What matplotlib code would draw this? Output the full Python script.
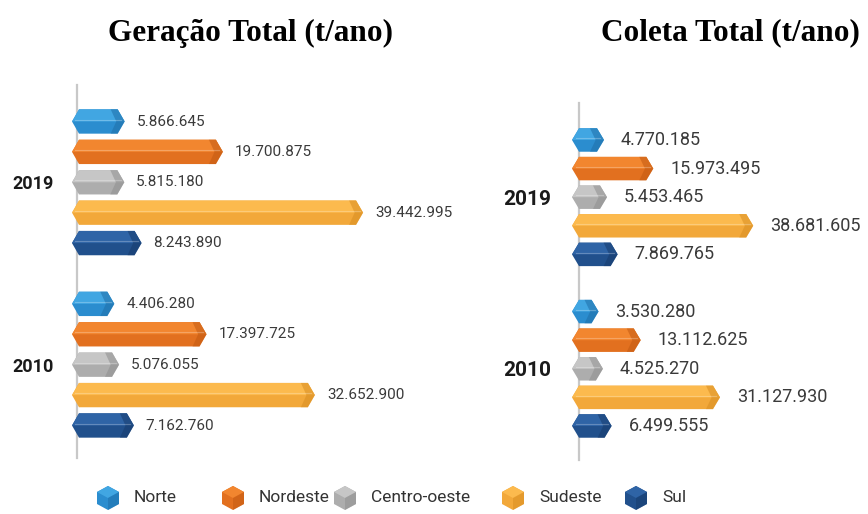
import matplotlib
matplotlib.use("Agg")
import matplotlib.pyplot as plt
from matplotlib.patches import Polygon

# data (t/ano)
regioes = ["Norte", "Nordeste", "Centro-oeste", "Sudeste", "Sul"]
anos = ["2019", "2010"]
geracao_2019 = [5866645, 19700875, 5815180, 39442995, 8243890]
geracao_2010 = [4406280, 17397725, 5076055, 32652900, 7162760]
coleta_2019 = [4770185, 15973495, 5453465, 38681605, 7869765]
coleta_2010 = [3530280, 13112625, 4525270, 31127930, 6499555]

# (top face, front face, tip)
cores = {
    "Norte": ("#41a6e2", "#2b8dcf", "#1f6ea8"),
    "Nordeste": ("#f2862f", "#e2701f", "#c25a12"),
    "Centro-oeste": ("#c6c6c6", "#adadad", "#8e8e8e"),
    "Sudeste": ("#fcba4e", "#f2a83a", "#d88e22"),
    "Sul": ("#2f64a6", "#21508c", "#173b6c"),
}

W, H = 868, 514
fig = plt.figure(figsize=(W / 100, H / 100), dpi=100)


def px_axes(x0, y0, x1, y1):
    # axes placed by pixel box (top-left origin)
    return fig.add_axes([x0 / W, 1 - y1 / H, (x1 - x0) / W, (y1 - y0) / H])


def fmt(v):
    return f"{v:,}".replace(",", ".")


def draw_bar(ax, slot, value, base, tip, h, regiao):
    top, front, dark = cores[regiao]
    v = value / 1e6
    y0, y1 = slot - h / 2, slot + h / 2
    hexa = [(base, slot), (base + tip, y0), (v - tip, y0), (v, slot),
            (v - tip, y1), (base + tip, y1)]
    ax.add_patch(Polygon(hexa, closed=True, fc=front, ec="none"))
    upper = [(base, slot), (base + tip, y0), (v - tip, y0), (v, slot)]
    ax.add_patch(Polygon(upper, closed=True, fc=top, ec="none"))
    ax.plot([base + tip * 0.5, v - tip * 0.5], [slot - h * 0.08] * 2,
            color="white", alpha=0.25, lw=0.8)
    face = [(v - 2 * tip, y0), (v - tip, y0), (v, slot), (v - tip, y1),
            (v - 2 * tip, y1), (v - tip * 1.2, slot)]
    ax.add_patch(Polygon(face, closed=True, fc=dark, ec="none", alpha=0.55))


def painel(ax, serie_2019, serie_2010, base, tip, h, line_x, line_y,
           gap, fs, year_fs, year_pad):
    for i, reg in enumerate(regioes):
        for slot, valor in ((i, serie_2019[i]), (i + 6, serie_2010[i])):
            draw_bar(ax, slot, valor, base, tip, h, reg)
            ax.text(valor / 1e6 + gap, slot, fmt(valor), va="center",
                    ha="left", fontsize=fs, family="Roboto", color="#3a3a3a",
                    clip_on=False)
    ax.plot([line_x, line_x], line_y, color="#c8c8c8", lw=1.6, zorder=0)
    ax.set_yticks([2, 8])
    ax.set_yticklabels(anos, fontsize=year_fs, fontweight="bold",
                       family="Roboto", color="#1a1a1a")
    ax.tick_params(axis="y", length=0, pad=year_pad)
    ax.set_xticks([])
    for s in ax.spines.values():
        s.set_visible(False)
    ax.patch.set_alpha(0)


# Geração Total: px = 83 + 7.1 * v (milhões)
ax1 = px_axes(72, 80, 480, 470)
ax1.set_xlim(-1.55, (480 - 83) / 7.1)
ax1.set_ylim((470 - 121.5) / 30.4, (80 - 121.5) / 30.4)
painel(ax1, geracao_2019, geracao_2010, -1.55, 7 / 7.1, 0.8, -0.85,
       [(85 - 121.5) / 30.4, (458 - 121.5) / 30.4], 12 / 7.1, 11, 13, 13)

# Coleta Total: px = 583 + 4.4 * v (milhões)
ax2 = px_axes(572, 90, 868, 470)
ax2.set_xlim(-2.5, (868 - 583) / 4.4)
ax2.set_ylim((470 - 140) / 28.6, (90 - 140) / 28.6)
painel(ax2, coleta_2019, coleta_2010, -2.5, 7 / 4.4, 0.82, -0.9,
       [(103 - 140) / 28.6, (460 - 140) / 28.6], 17 / 4.4, 13, 15, 15)

# titles and legend on a pixel overlay
ov = px_axes(0, 0, W, H)
ov.set_xlim(0, W)
ov.set_ylim(H, 0)
ov.axis("off")
ov.patch.set_alpha(0)
ov.text(251, 33, "Geração Total (t/ano)", ha="center", va="center",
        fontsize=22.5, fontweight="bold", family="Liberation Serif")
ov.text(730, 33, "Coleta Total (t/ano)", ha="center", va="center",
        fontsize=22.5, fontweight="bold", family="Liberation Serif")

leg_x = [108, 233, 345, 513, 636]
leg_y = 498
for cx, reg in zip(leg_x, regioes):
    top, front, dark = cores[reg]
    r = 12
    hx = 11
    cube = [(cx, leg_y - r), (cx + hx, leg_y - r / 2), (cx + hx, leg_y + r / 2),
            (cx, leg_y + r), (cx - hx, leg_y + r / 2), (cx - hx, leg_y - r / 2)]
    ov.add_patch(Polygon(cube, closed=True, fc=front, ec="none"))
    topf = [(cx, leg_y - r), (cx + hx, leg_y - r / 2), (cx, leg_y),
            (cx - hx, leg_y - r / 2)]
    ov.add_patch(Polygon(topf, closed=True, fc=top, ec="none"))
    side = [(cx, leg_y), (cx + hx, leg_y - r / 2), (cx + hx, leg_y + r / 2),
            (cx, leg_y + r)]
    ov.add_patch(Polygon(side, closed=True, fc=dark, ec="none", alpha=0.5))
    ov.text(cx + 26, leg_y, reg, ha="left", va="center", fontsize=12.5,
            family="Roboto", color="#333333")

fig.savefig("out.png", dpi=100)
